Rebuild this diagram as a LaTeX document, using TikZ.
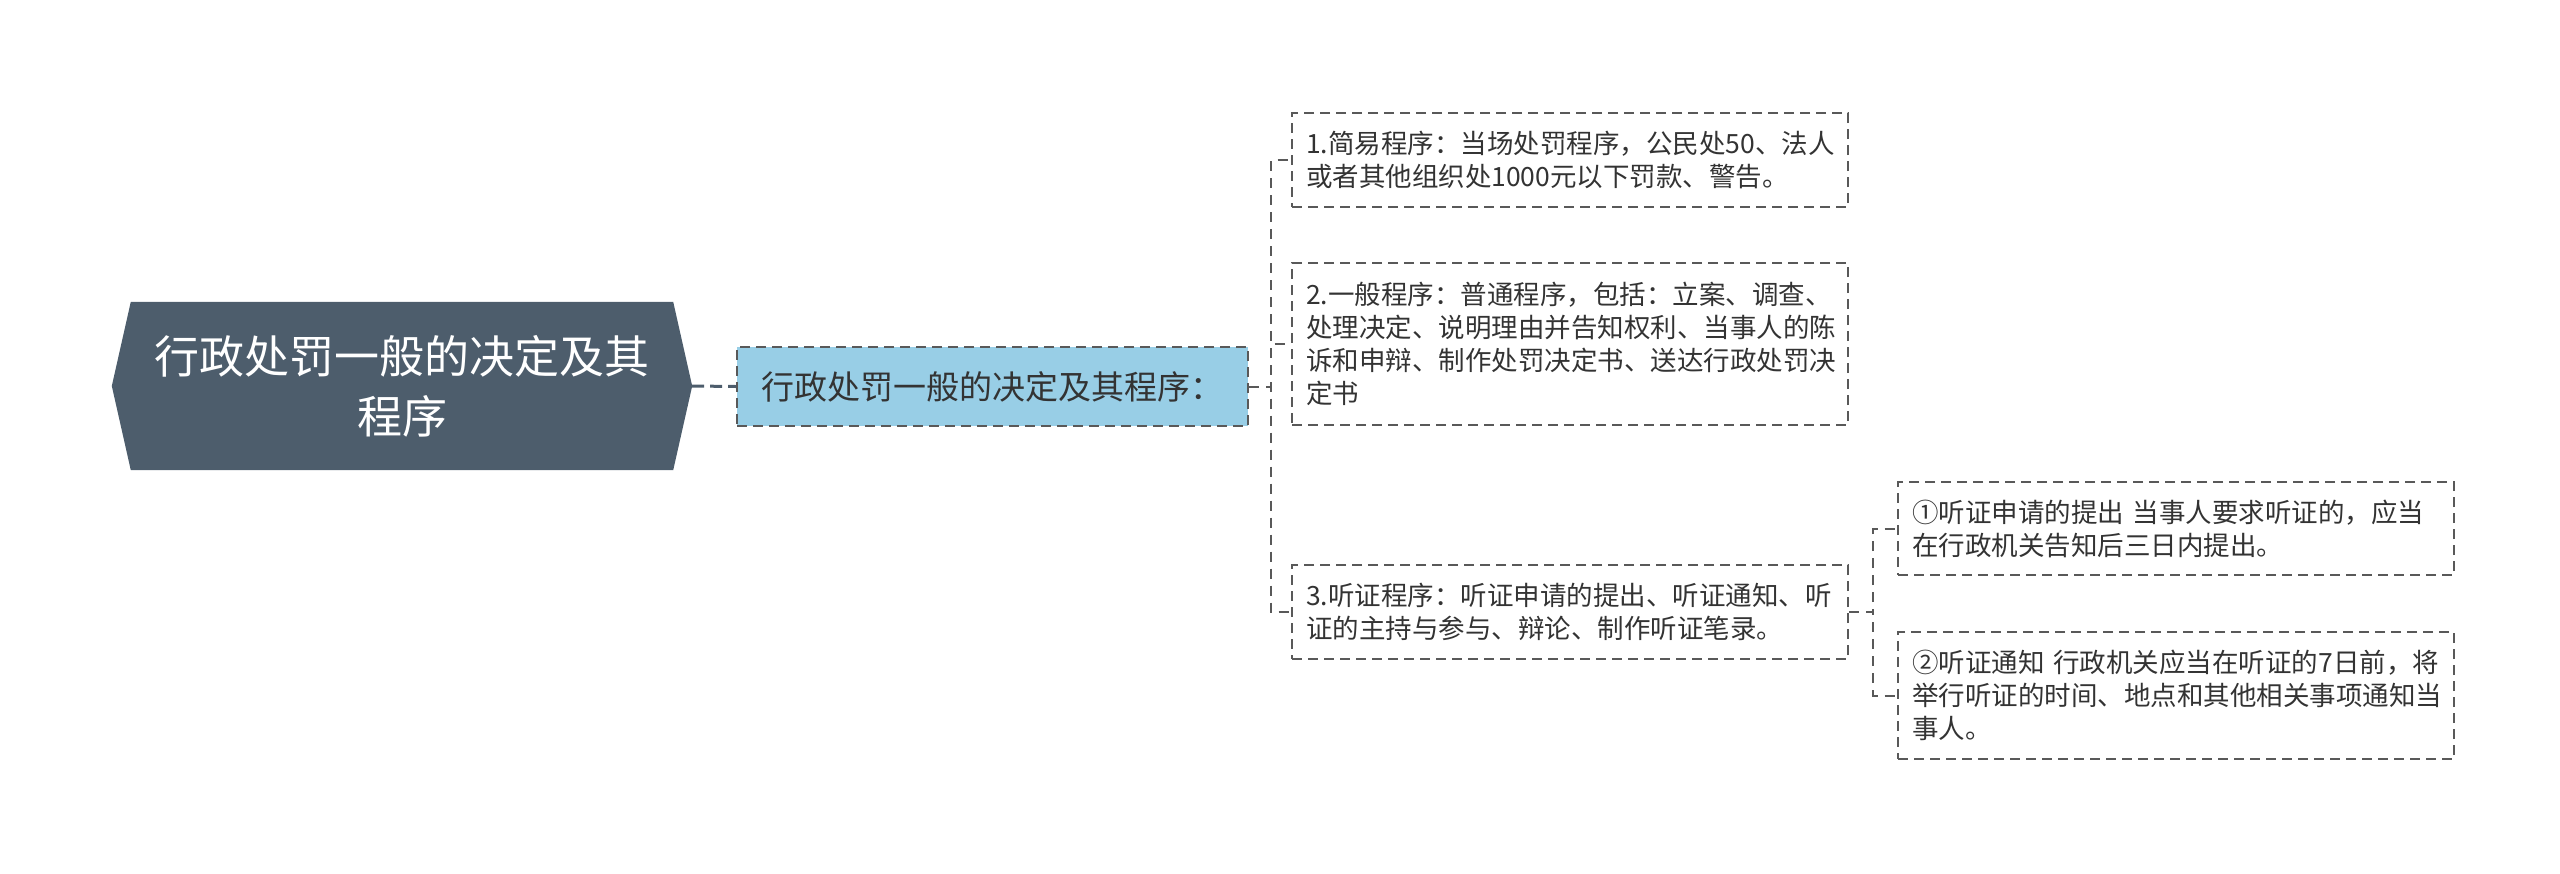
\documentclass[tikz,border=0pt]{standalone}
\usepackage{fontspec}
\newfontfamily\cjk{Noto Sans CJK SC}
\usetikzlibrary{backgrounds}
\definecolor{slate}{HTML}{4D5D6C}
\definecolor{skyfill}{HTML}{98CEE6}
\definecolor{edge}{HTML}{595959}
\definecolor{ink}{HTML}{333333}
\tikzset{rootbox/.style = {text=white, font=\cjk\fontsize{45}{60}\selectfont, align=center,
                           minimum width=580pt, minimum height=168pt, inner sep=0pt}}
\tikzset{subbox/.style = {draw=edge, fill=skyfill, line width=2pt, dash pattern=on 10pt off 6pt,
                          text=ink, font=\cjk\fontsize{33}{40}\selectfont,
                          minimum width=511pt, minimum height=79pt, inner sep=0pt}}
\tikzset{leaf/.style = {draw=edge, line width=2pt, dash pattern=on 10pt off 6pt, text=ink,
                        font=\cjk\fontsize{26.5}{33}\selectfont, align=left, text width=528pt,
                        inner xsep=14pt, inner ysep=0pt, minimum height=#1}}
\tikzset{link/.style = {draw=edge, line width=2pt, dash pattern=on 10pt off 7pt}}
\tikzset{rootlink/.style = {draw=slate, line width=3pt, dash pattern=on 12pt off 6pt}}

\begin{document}
\begin{tikzpicture}[x=1pt, y=-1pt]
      \useasboundingbox (0, 0) rectangle (2560, 873);

      \node [rootbox] (root) at (402, 386) {行政处罚一般的决定及其\\程序};
      \begin{scope}[on background layer]
        \fill [slate] ([xshift=19pt]root.north west) -- ([xshift=-19pt]root.north east)
          -- (root.east) -- ([xshift=-19pt]root.south east)
          -- ([xshift=19pt]root.south west) -- (root.west) -- cycle;
      \end{scope}

      \node [subbox] (sub) at (992.5, 386.5) {行政处罚一般的决定及其程序：};

      \node [leaf=94pt] (c1) at (1570, 160) {1.简易程序：当场处罚程序，公民处50、法人\\或者其他组织处1000元以下罚款、警告。};
      \node [leaf=162pt] (c2) at (1570, 344) {2.一般程序：普通程序，包括：立案、调查、\\处理决定、说明理由并告知权利、当事人的陈\\诉和申辩、制作处罚决定书、送达行政处罚决\\定书};
      \node [leaf=94pt] (c3) at (1570, 612) {3.听证程序：听证申请的提出、听证通知、听\\证的主持与参与、辩论、制作听证笔录。};

      \node [leaf=93pt] (g1) at (2176, 528.5) {①听证申请的提出 当事人要求听证的，应当\\在行政机关告知后三日内提出。};
      \node [leaf=127pt] (g2) at (2176, 695.5) {②听证通知 行政机关应当在听证的7日前，将\\举行听证的时间、地点和其他相关事项通知当\\事人。};

      \draw [rootlink] (root.east) -- (sub.west);
      \foreach \c in {c1, c2, c3}
        \draw [link] (sub.east) -- ++(22, 0) |- (\c.west);
      \foreach \g in {g1, g2}
        \draw [link] (c3.east) -- ++(24, 0) |- (\g.west);
    \end{tikzpicture}
\end{document}
